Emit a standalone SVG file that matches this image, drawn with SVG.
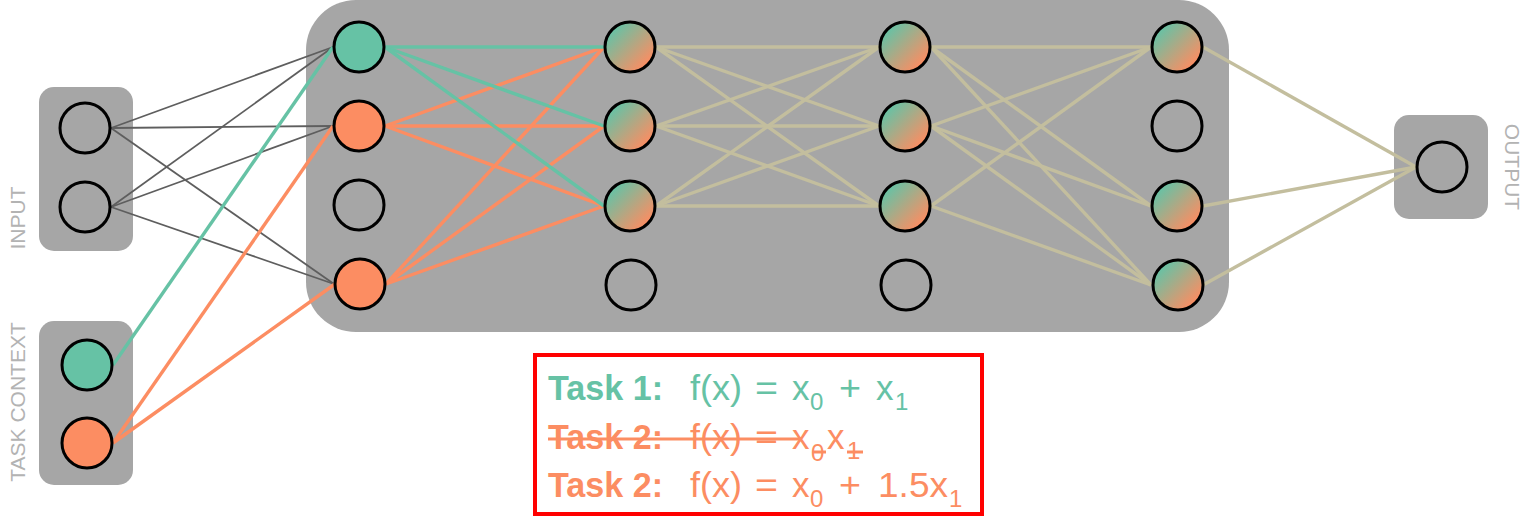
<svg xmlns="http://www.w3.org/2000/svg" width="1534" height="530" viewBox="0 0 1534 530">
<defs>
<linearGradient id="mix" x1="0.15" y1="0.15" x2="0.85" y2="0.85">
<stop offset="0" stop-color="#66c2a5"/>
<stop offset="1" stop-color="#fc8d62"/>
</linearGradient>
<style>
.panel{fill:#a6a6a6}
.node{stroke:#000;stroke-width:3;fill:none}
.g{fill:#66c2a5}
.o{fill:#fc8d62}
.m{fill:url(#mix)}
.e-gray{stroke:#5e5e5e;stroke-width:1.8;fill:none}
.e-green{stroke:#66c2a5;stroke-width:3.4;fill:none}
.e-orange{stroke:#fc8d62;stroke-width:3.4;fill:none}
.e-tan{stroke:#c3be9e;stroke-width:3.4;fill:none}
.lbl{font-family:"Liberation Sans",Arial,sans-serif;font-size:21px;fill:#b3b3b3}
.t{font-family:"Liberation Sans",Arial,sans-serif;font-size:35px}
.b{font-weight:bold}
.sub{font-size:24px}
.tg{fill:#66c2a5}
.to{fill:#fc8d62}
</style>
</defs>

<g id="panels">
<rect class="panel" x="306" y="0" width="923" height="332" rx="50"/>
<rect class="panel" x="39" y="87" width="94" height="164" rx="15"/>
<rect class="panel" x="39" y="321" width="94" height="164" rx="15"/>
<rect class="panel" x="1394" y="115" width="94" height="104" rx="15"/>
</g>

<g id="labels">
<text class="lbl" transform="translate(25,218) rotate(-90)" text-anchor="middle">INPUT</text>
<text class="lbl" transform="translate(25,402) rotate(-90)" text-anchor="middle">TASK CONTEXT</text>
<text class="lbl" transform="translate(1505,167) rotate(90)" text-anchor="middle">OUTPUT</text>
</g>

<g id="connectors">
<line class="e-gray" x1="111" y1="128" x2="333" y2="47"/>
<line class="e-gray" x1="111" y1="128" x2="333" y2="126"/>
<line class="e-gray" x1="111" y1="128" x2="334" y2="284"/>
<line class="e-gray" x1="111" y1="207" x2="333" y2="47"/>
<line class="e-gray" x1="111" y1="207" x2="333" y2="126"/>
<line class="e-gray" x1="111" y1="207" x2="334" y2="284"/>
<line class="e-green" x1="113" y1="365" x2="333" y2="47"/>
<line class="e-orange" x1="113" y1="443" x2="333" y2="126"/>
<line class="e-orange" x1="113" y1="443" x2="335" y2="284"/>
<line class="e-orange" x1="385" y1="126" x2="604" y2="47"/>
<line class="e-orange" x1="385" y1="126" x2="604" y2="126"/>
<line class="e-orange" x1="385" y1="126" x2="604" y2="206"/>
<line class="e-orange" x1="386" y1="284" x2="604" y2="47"/>
<line class="e-orange" x1="386" y1="284" x2="604" y2="126"/>
<line class="e-orange" x1="386" y1="284" x2="604" y2="206"/>
<line class="e-green" x1="385" y1="47" x2="604" y2="47"/>
<line class="e-green" x1="385" y1="47" x2="604" y2="126"/>
<line class="e-green" x1="385" y1="47" x2="604" y2="206"/>
<line class="e-tan" x1="656" y1="47" x2="879" y2="47"/>
<line class="e-tan" x1="656" y1="47" x2="879" y2="126"/>
<line class="e-tan" x1="656" y1="47" x2="879" y2="206"/>
<line class="e-tan" x1="656" y1="126" x2="879" y2="47"/>
<line class="e-tan" x1="656" y1="126" x2="879" y2="126"/>
<line class="e-tan" x1="656" y1="126" x2="879" y2="206"/>
<line class="e-tan" x1="656" y1="206" x2="879" y2="47"/>
<line class="e-tan" x1="656" y1="206" x2="879" y2="126"/>
<line class="e-tan" x1="656" y1="206" x2="879" y2="206"/>
<line class="e-tan" x1="931" y1="47" x2="1151" y2="47"/>
<line class="e-tan" x1="931" y1="47" x2="1151" y2="206"/>
<line class="e-tan" x1="931" y1="47" x2="1151" y2="285"/>
<line class="e-tan" x1="931" y1="126" x2="1151" y2="47"/>
<line class="e-tan" x1="931" y1="126" x2="1151" y2="206"/>
<line class="e-tan" x1="931" y1="126" x2="1151" y2="285"/>
<line class="e-tan" x1="931" y1="206" x2="1151" y2="47"/>
<line class="e-tan" x1="931" y1="206" x2="1151" y2="285"/>
<line class="e-tan" x1="1203" y1="47" x2="1416" y2="167"/>
<line class="e-tan" x1="1203" y1="206" x2="1416" y2="167"/>
<line class="e-tan" x1="1203" y1="285" x2="1416" y2="167"/>
</g>

<g id="in1"><circle class="node" cx="85" cy="128" r="25"/></g>
<g id="in2"><circle class="node" cx="85" cy="207" r="25"/></g>
<g id="ctx1"><circle class="node g" cx="87" cy="365" r="25"/></g>
<g id="ctx2"><circle class="node o" cx="87" cy="443" r="25"/></g>

<g id="l1n1"><circle class="node g" cx="359" cy="47" r="25"/></g>
<g id="l1n2"><circle class="node o" cx="359" cy="126" r="25"/></g>
<g id="l1n3"><circle class="node" cx="359" cy="205" r="25"/></g>
<g id="l1n4"><circle class="node o" cx="360" cy="284" r="25"/></g>

<g id="l2n1"><circle class="node m" cx="630" cy="47" r="25"/></g>
<g id="l2n2"><circle class="node m" cx="630" cy="126" r="25"/></g>
<g id="l2n3"><circle class="node m" cx="630" cy="206" r="25"/></g>
<g id="l2n4"><circle class="node" cx="631" cy="285" r="25"/></g>

<g id="l3n1"><circle class="node m" cx="905" cy="47" r="25"/></g>
<g id="l3n2"><circle class="node m" cx="905" cy="126" r="25"/></g>
<g id="l3n3"><circle class="node m" cx="905" cy="206" r="25"/></g>
<g id="l3n4"><circle class="node" cx="906" cy="285" r="25"/></g>

<g id="l4n1"><circle class="node m" cx="1177" cy="47" r="25"/></g>
<g id="l4n2"><circle class="node" cx="1177" cy="126" r="25"/></g>
<g id="l4n3"><circle class="node m" cx="1177" cy="206" r="25"/></g>
<g id="l4n4"><circle class="node m" cx="1178" cy="285" r="25"/></g>

<g id="out"><circle class="node" cx="1442" cy="167" r="25"/></g>

<g id="legend">
<rect x="535" y="355" width="447" height="159" fill="none" stroke="#ff0000" stroke-width="4"/>
<g class="t tg">
<text class="b" x="548" y="400" textLength="115" lengthAdjust="spacingAndGlyphs">Task 1:</text>
<text x="690" y="400" textLength="52" lengthAdjust="spacingAndGlyphs">f(x)</text>
<text x="755" y="400" textLength="23" lengthAdjust="spacingAndGlyphs">=</text>
<text x="792" y="400">x</text><text class="sub" x="810" y="410">0</text>
<text x="839" y="400" textLength="22" lengthAdjust="spacingAndGlyphs">+</text>
<text x="876" y="400">x</text><text class="sub" x="895" y="410">1</text>
</g>
<g class="t to">
<text class="b" x="548" y="449" textLength="115" lengthAdjust="spacingAndGlyphs">Task 2:</text>
<text x="690" y="449" textLength="52" lengthAdjust="spacingAndGlyphs">f(x)</text>
<text x="755" y="449" textLength="23" lengthAdjust="spacingAndGlyphs">=</text>
<text x="792" y="449">x</text><text class="sub" x="811" y="461">0</text>
<text x="827" y="449">x</text><text class="sub" x="847" y="459">1</text>
</g>
<line x1="548" y1="439" x2="802" y2="439" stroke="#fc8d62" stroke-width="3"/>
<line x1="812" y1="452" x2="826" y2="452" stroke="#fc8d62" stroke-width="3"/>
<line x1="847" y1="452" x2="863" y2="452" stroke="#fc8d62" stroke-width="3"/>
<g class="t to">
<text class="b" x="548" y="497" textLength="115" lengthAdjust="spacingAndGlyphs">Task 2:</text>
<text x="690" y="497" textLength="52" lengthAdjust="spacingAndGlyphs">f(x)</text>
<text x="755" y="497" textLength="23" lengthAdjust="spacingAndGlyphs">=</text>
<text x="792" y="497">x</text><text class="sub" x="810" y="507">0</text>
<text x="839" y="497" textLength="22" lengthAdjust="spacingAndGlyphs">+</text>
<text x="878" y="497" textLength="70" lengthAdjust="spacingAndGlyphs">1.5x</text><text class="sub" x="949" y="507">1</text>
</g>
</g>
</svg>
